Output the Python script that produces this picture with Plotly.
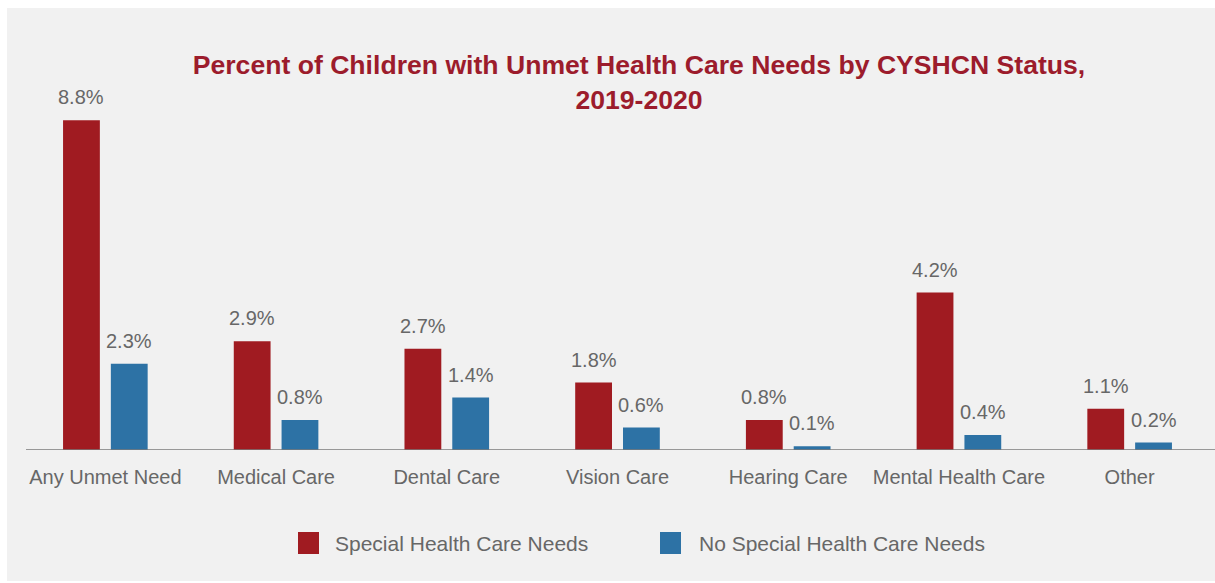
import plotly.graph_objects as go

# Unmet health care needs, 2019-2020 (percent of children)
categories = ["Any Unmet Need", "Medical Care", "Dental Care", "Vision Care",
              "Hearing Care", "Mental Health Care", "Other"]
special_needs = [8.8, 2.9, 2.7, 1.8, 0.8, 4.2, 1.1]
no_special_needs = [2.3, 0.8, 1.4, 0.6, 0.1, 0.4, 0.2]
series_names = ["Special Health Care Needs", "No Special Health Care Needs"]

RED = "#a01b21"
BLUE = "#2d72a5"
TITLE_RED = "#9c1c2c"
GRAY_TEXT = "#676767"
PANEL = "#f1f1f1"
FONT = "Liberation Sans, Arial, sans-serif"

W, H = 1215, 583
ML, MR, MT, MB = 20, 0, 19, 133
PW, PH = W - ML - MR, H - MT - MB
N = len(categories)
BARGAP, GROUPGAP = 0.44, 0.23


def px_x(x):
    return (x - ML) / PW


def px_y(y):
    return (H - MB - y) / PH


fig = go.Figure()
series = [(series_names[0], special_needs, RED), (series_names[1], no_special_needs, BLUE)]
for name, vals, color in series:
    fig.add_trace(go.Bar(
        x=categories, y=vals, name=name, marker_color=color,
        marker_line_width=0, showlegend=False,
    ))

# value labels above each bar, shifted to the centre of its slot in the group
slot_px = PW / N * (1 - BARGAP) / len(series)
annotations = []
for i, (name, vals, color) in enumerate(series):
    shift = (i - (len(series) - 1) / 2) * slot_px
    for cat, v in zip(categories, vals):
        annotations.append(dict(
            x=cat, y=v, xref="x", yref="y", text=f"{v:.1f}%",
            showarrow=False, xanchor="center", yanchor="bottom",
            xshift=shift, yshift=10,
            font=dict(family=FONT, size=20, color=GRAY_TEXT)))

shapes = [
    # light panel behind the chart
    dict(type="rect", xref="paper", yref="paper", layer="below",
         x0=px_x(7), x1=px_x(W), y0=px_y(581), y1=px_y(8),
         fillcolor=PANEL, line_width=0),
    # baseline
    dict(type="line", xref="paper", yref="y", x0=px_x(26), x1=1, y0=0, y1=0,
         line=dict(color="#7a7a7a", width=1.5)),
]
legend_items = [(series_names[0], RED, 298, 333), (series_names[1], BLUE, 660, 697)]
for name, color, sx, tx in legend_items:
    shapes.append(dict(type="rect", xref="paper", yref="paper",
                       x0=px_x(sx), x1=px_x(sx + 21), y0=px_y(554), y1=px_y(532),
                       fillcolor=color, line_width=0))
    annotations.append(dict(text=name, xref="paper", yref="paper",
                            x=px_x(tx), y=px_y(543), xanchor="left", yanchor="middle",
                            showarrow=False,
                            font=dict(family=FONT, size=21, color=GRAY_TEXT)))

fig.update_layout(
    width=W, height=H,
    margin=dict(l=ML, r=MR, t=MT, b=MB),
    paper_bgcolor="white", plot_bgcolor="rgba(0,0,0,0)",
    barmode="group", bargap=BARGAP, bargroupgap=GROUPGAP,
    title=dict(text="<b>Percent of Children with Unmet Health Care Needs by CYSHCN Status,<br>2019-2020</b>",
               x=639 / W, xref="container", xanchor="center",
               y=1 - 74 / H, yref="container", yanchor="top",
               font=dict(family=FONT, size=26.6, color=TITLE_RED)),
    xaxis=dict(range=[-0.5, N - 0.5], showgrid=False, showline=False,
               zeroline=False, ticks="", tickangle=0, ticklabelstandoff=13,
               tickfont=dict(family=FONT, size=20, color=GRAY_TEXT)),
    yaxis=dict(range=[0, 11.5], visible=False, showgrid=False, zeroline=False),
    shapes=shapes, annotations=annotations,
)

fig.write_html("out.html")
